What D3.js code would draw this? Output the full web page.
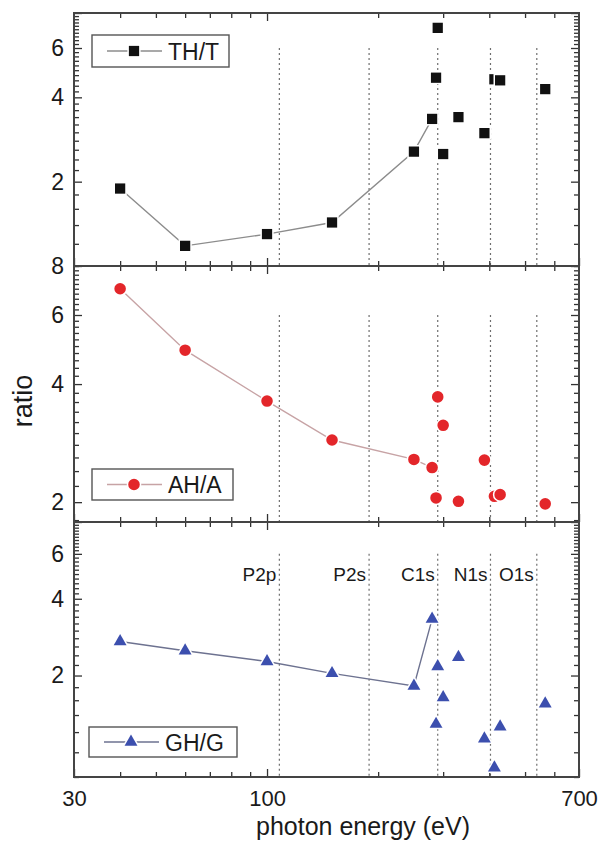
<!DOCTYPE html>
<html>
<head>
<meta charset="utf-8">
<script src="https://cdn.jsdelivr.net/npm/d3@7/dist/d3.min.js"></script>
<style>
  body { margin: 0; background: #fff; }
  text { font-family: "Liberation Sans", Arial, sans-serif; fill: #1a1a1a; }
</style>
</head>
<body>
<svg id="chart" width="600" height="843"></svg>
<script>
// Photon energies (eV) shared by all three ratio series
const energies = [40, 60, 100, 150, 250, 280, 287, 290, 300, 330, 388, 413, 428, 567];
// Ratio series
const thT = [1.89, 1.18, 1.30, 1.43, 2.56, 3.35, 4.70, 7.08, 2.51, 3.40, 2.98, 4.64, 4.60, 4.28];
const ahA = [7.00, 4.88, 3.62, 2.88, 2.57, 2.45, 2.05, 3.71, 3.14, 2.01, 2.56, 2.07, 2.09, 1.98];
const ghG = [2.72, 2.50, 2.27, 2.04, 1.82, 3.33, 1.29, 2.17, 1.64, 2.36, 1.13, 0.87, 1.26, 1.55];
// Only the first points of each series are joined by a line
const joinedCount = 6;

// Absorption edges
const edgeEnergies = [108, 189, 290, 403, 538];
const edgeNames = ["P2p", "P2s", "C1s", "N1s", "O1s"];

// Axis ticks
const xTickLabels = [30, 100, 700];
const xMinorTicks = [40, 50, 60, 70, 80, 90, 200, 300, 400, 500, 600];
const yMajorTicks = [2, 4, 6, 8];
const topYLabels = [2, 4, 6];
const middleYLabels = [2, 4, 6, 8];
const bottomYLabels = [2, 4, 6];

const svg = d3.select("#chart");
const left = 74, right = 579;
const x = d3.scaleLog().domain([30, 700]).range([left, right]);

const panels = [
  { name: "TH/T", values: thT, domain: [1, 8], top: 13, bottom: 266, labels: topYLabels,
    symbol: d3.symbolSquare, size: 105, fill: "#111", line: "#8c8c8c",
    legend: { x: 92, y: 35, w: 137, h: 32 } },
  { name: "AH/A", values: ahA, domain: [1.78, 8], top: 266, bottom: 522, labels: middleYLabels,
    symbol: d3.symbolCircle, size: 105, fill: "#e3262a", line: "#c7a3a5",
    legend: { x: 92, y: 469, w: 141, h: 31 } },
  { name: "GH/G", values: ghG, domain: [0.8, 8], top: 522, bottom: 777, labels: bottomYLabels,
    symbol: d3.symbolTriangle, size: 72, fill: "#3c4fae", line: "#6d7290",
    legend: { x: 89, y: 727, w: 148, h: 30 } }
];

// minor ticks every 0.2 within a domain, skipping majors
function minorTicks(domain) {
  const out = [];
  for (let k = Math.ceil(domain[0] * 5 - 1e-9); k / 5 <= domain[1] + 1e-9; k++) {
    const v = +(k / 5).toFixed(2);
    if (v % 2 !== 0) out.push(v);
  }
  return out;
}

panels.forEach((p, i) => {
  const y = d3.scaleLog().domain(p.domain).range([p.bottom, p.top]);
  const g = svg.append("g");

  // absorption edge markers
  g.selectAll("line.edge").data(edgeEnergies).join("line")
    .attr("class", "edge")
    .attr("x1", d => x(d)).attr("x2", d => x(d))
    .attr("y1", y(6)).attr("y2", p.bottom)
    .attr("stroke", "#6f6f6f").attr("stroke-width", 1.2)
    .attr("stroke-dasharray", "2,3");

  // inward ticks on all four sides
  const yMinor = minorTicks(p.domain);
  const yMajor = yMajorTicks.filter(v => v >= p.domain[0] && v <= p.domain[1]);
  const addY = (axisFn, xPos, vals, len, labels) => {
    const a = g.append("g").attr("transform", `translate(${xPos},0)`)
      .call(axisFn(y).tickValues(vals).tickSizeInner(-len).tickSizeOuter(0)
        .tickPadding(10)
        .tickFormat(d => labels && labels.includes(d) ? d3.format("d")(d) : ""));
    a.select(".domain").remove();
    a.selectAll(".tick line").attr("stroke", "#333").attr("stroke-width", 1.3);
    a.selectAll("text").attr("font-size", 23).attr("fill", "#1a1a1a");
  };
  addY(d3.axisLeft, left, yMinor, 5, null);
  addY(d3.axisLeft, left, yMajor, 8, p.labels);
  addY(d3.axisRight, right, yMinor, 5, null);
  addY(d3.axisRight, right, yMajor, 8, null);

  const addX = (axisFn, yPos, vals, len, showLabels) => {
    const a = g.append("g").attr("transform", `translate(0,${yPos})`)
      .call(axisFn(x).tickValues(vals).tickSizeInner(-len).tickSizeOuter(0)
        .tickPadding(13)
        .tickFormat(d => showLabels ? d3.format("d")(d) : ""));
    a.select(".domain").remove();
    a.selectAll(".tick line").attr("stroke", "#333").attr("stroke-width", 1.3);
    a.selectAll("text").attr("font-size", 22).attr("fill", "#1a1a1a");
  };
  const isLast = i === panels.length - 1;
  addX(d3.axisBottom, p.bottom, xMinorTicks, 5, false);
  addX(d3.axisBottom, p.bottom, xTickLabels, 8, isLast);
  addX(d3.axisTop, p.top, xMinorTicks, 5, false);
  addX(d3.axisTop, p.top, [100], 8, false);

  // frame
  g.append("rect")
    .attr("x", left).attr("y", p.top)
    .attr("width", right - left).attr("height", p.bottom - p.top)
    .attr("fill", "none").attr("stroke", "#444").attr("stroke-width", 2);

  // series
  const pts = energies.map((e, k) => ({ e, v: p.values[k] }));
  g.append("path")
    .datum(pts.slice(0, joinedCount))
    .attr("fill", "none").attr("stroke", p.line).attr("stroke-width", 1.4)
    .attr("d", d3.line().x(d => x(d.e)).y(d => y(d.v)));

  const sym = d3.symbol().type(p.symbol).size(p.size);
  g.selectAll("path.mark").data(pts).join("path")
    .attr("class", "mark")
    .attr("transform", d => `translate(${x(d.e)},${y(d.v)})`)
    .attr("d", sym)
    .attr("fill", p.fill)
    .attr("stroke", "#fff").attr("stroke-width", 3)
    .style("paint-order", "stroke");

  // legend
  const L = p.legend;
  const lg = g.append("g");
  lg.append("rect").attr("x", L.x).attr("y", L.y).attr("width", L.w).attr("height", L.h)
    .attr("fill", "#fff").attr("stroke", "#555").attr("stroke-width", 1.4);
  const cy = L.y + L.h / 2;
  lg.append("line").attr("x1", L.x + 15).attr("x2", L.x + 70).attr("y1", cy).attr("y2", cy)
    .attr("stroke", p.line).attr("stroke-width", 1.4);
  lg.append("path").attr("transform", `translate(${L.x + 42},${cy})`).attr("d", sym)
    .attr("fill", p.fill).attr("stroke", "#fff").attr("stroke-width", 3)
    .style("paint-order", "stroke");
  lg.append("text").attr("x", L.x + 76).attr("y", cy + 8.5)
    .attr("font-size", 23).text(p.name);

  // edge names in the lowest panel
  if (isLast) {
    g.selectAll("text.edge").data(edgeEnergies).join("text")
      .attr("class", "edge")
      .attr("x", d => x(d) - 3).attr("y", 581)
      .attr("text-anchor", "end").attr("font-size", 19)
      .text((d, k) => edgeNames[k]);
  }
});

// axis titles
svg.append("text")
  .attr("x", 363).attr("y", 835)
  .attr("text-anchor", "middle").attr("font-size", 25)
  .text("photon energy (eV)");
svg.append("text")
  .attr("transform", "translate(32,401) rotate(-90)")
  .attr("text-anchor", "middle").attr("font-size", 27)
  .text("ratio");
</script>
</body>
</html>
